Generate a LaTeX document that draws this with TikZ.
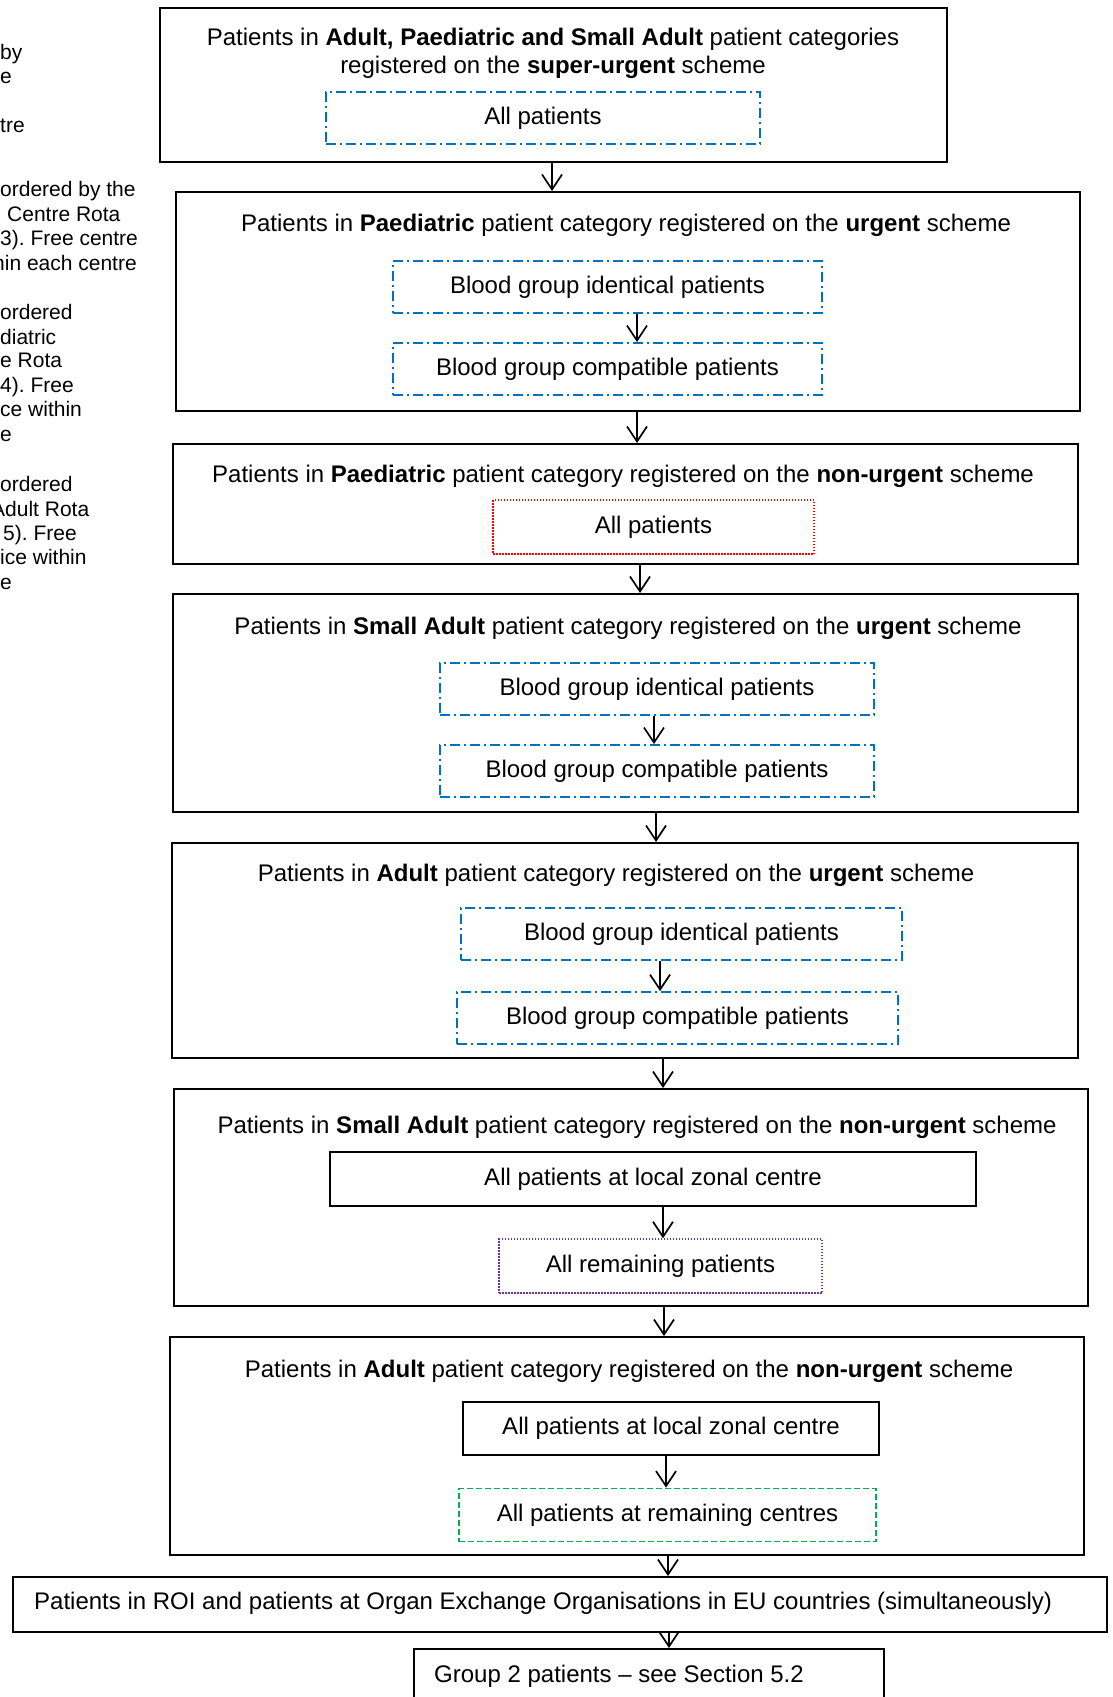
\documentclass[tikz,border=0pt]{standalone}
\usepackage{fontspec}
\setmainfont{Liberation Sans}
\usetikzlibrary{arrows.meta}
\definecolor{zoneblue}{RGB}{0,112,192}
\definecolor{zonered}{RGB}{255,0,0}
\definecolor{zonepurple}{RGB}{112,48,160}
\definecolor{zonegreen}{RGB}{0,176,80}
\frenchspacing

\begin{document}
\begin{tikzpicture}[x=1pt,y=-1pt,
  every node/.style={inner sep=0pt,font=\fontsize{24}{28}\selectfont},
  tier/.style={draw,line width=2pt},
  pool/.style={line width=1.8pt,minimum height=52pt},
  bluebox/.style={pool,draw=zoneblue,dash pattern=on 10pt off 4pt on 2pt off 4pt},
  redbox/.style={pool,draw=zonered,line width=1.5pt,dash pattern=on 1.5pt off 1.5pt},
  purplebox/.style={pool,draw=zonepurple,line width=1.5pt,dash pattern=on 1.5pt off 1.5pt},
  greenbox/.style={pool,draw=zonegreen,dash pattern=on 6pt off 3pt},
  plainbox/.style={pool,draw=black,line width=2pt},
  flow/.style={-{Straight Barb[length=15pt,width=20pt]},line width=1.7pt},
  side/.style={font=\fontsize{21}{24}\selectfont,anchor=base west}]
  \useasboundingbox (0,0) rectangle (1112,1697);

  %clipped notes on the left edge
  \foreach \ly/\lx/\lt [count=\i] in {52/0/by, 76/0/e, 125/0/tre,
      189/0/ordered by the, 214/7/Centre Rota, 238/0/3). Free centre, 263/-7/hin each centre,
      312/0/ordered, 337/0/diatric, 360/0/e Rota, 385/0/4). Free, 409/0/ce within, 434/0/e,
      484/0/ordered, 509/-9/Adult Rota, 533/3/5). Free, 557/0/ice within, 582/0/e}
    \node[side] (note\i) at (\lx,\ly+7) {\lt};

  %super-urgent
  \node[tier,minimum width=787pt,minimum height=154pt] (b1) at (553.5,85) {};
  \node[align=center] (t1) at (553,53) {Patients in \textbf{Adult, Paediatric and Small Adult} patient categories\\registered on the \textbf{super-urgent} scheme};
  \node[bluebox,minimum width=434pt] (i1) at (543,118) {All patients};

  %paediatric urgent
  \node[tier,minimum width=904pt,minimum height=219pt] (b2) at (628,301.5) {};
  \node (t2) at (626,225) {Patients in \textbf{Paediatric} patient category registered on the \textbf{urgent} scheme};
  \node[bluebox,minimum width=429pt] (i2a) at (607.5,287) {Blood group identical patients};
  \node[bluebox,minimum width=429pt] (i2b) at (607.5,369) {Blood group compatible patients};

  %paediatric non-urgent
  \node[tier,minimum width=905pt,minimum height=120pt] (b3) at (625.5,504) {};
  \node (t3) at (623,476) {Patients in \textbf{Paediatric} patient category registered on the \textbf{non-urgent} scheme};
  \node[redbox,minimum width=321pt,minimum height=54pt] (i3) at (653.5,527) {All patients};

  %small adult urgent
  \node[tier,minimum width=905pt,minimum height=218pt] (b4) at (625.5,703) {};
  \node (t4) at (628,628) {Patients in \textbf{Small Adult} patient category registered on the \textbf{urgent} scheme};
  \node[bluebox,minimum width=434pt] (i4a) at (657,689) {Blood group identical patients};
  \node[bluebox,minimum width=434pt] (i4b) at (657,771) {Blood group compatible patients};

  %adult urgent
  \node[tier,minimum width=906pt,minimum height=215pt] (b5) at (625,950.5) {};
  \node (t5) at (616,875) {Patients in \textbf{Adult} patient category registered on the \textbf{urgent} scheme};
  \node[bluebox,minimum width=441pt] (i5a) at (681.5,934) {Blood group identical patients};
  \node[bluebox,minimum width=441pt] (i5b) at (677.5,1018) {Blood group compatible patients};

  %small adult non-urgent
  \node[tier,minimum width=914pt,minimum height=217pt] (b6) at (631,1197.5) {};
  \node (t6) at (637,1127) {Patients in \textbf{Small Adult} patient category registered on the \textbf{non-urgent} scheme};
  \node[plainbox,minimum width=646pt,minimum height=54pt] (i6a) at (653,1179) {All patients at local zonal centre};
  \node[purplebox,minimum width=323pt,minimum height=54pt] (i6b) at (660.5,1266) {All remaining patients};

  %adult non-urgent
  \node[tier,minimum width=914pt,minimum height=218pt] (b7) at (627,1446) {};
  \node (t7) at (629,1371) {Patients in \textbf{Adult} patient category registered on the \textbf{non-urgent} scheme};
  \node[plainbox,minimum width=416pt,minimum height=53pt] (i7a) at (671,1428) {All patients at local zonal centre};
  \node[greenbox,minimum width=417pt,minimum height=53pt] (i7b) at (667.5,1515) {All patients at remaining centres};

  %ROI and EU, then group 2
  \node[tier,minimum width=1094pt,minimum height=55pt] (b8) at (560,1604.5) {};
  \node[anchor=west] (t8) at (34,1603) {Patients in ROI and patients at Organ Exchange Organisations in EU countries (simultaneously)};
  \node[tier,minimum width=470pt,minimum height=81pt] (b9) at (649,1689.5) {};
  \node[anchor=west] (t9) at (434,1676) {Group 2 patients -- see Section 5.2};

  %arrows
  \coordinate (x1) at (552,0);
  \coordinate (x2) at (637,0);
  \coordinate (x3) at (640,0);
  \coordinate (x4) at (654,0);
  \coordinate (x5) at (656,0);
  \coordinate (x6) at (660,0);
  \coordinate (x7) at (663,0);
  \coordinate (x8) at (664,0);
  \coordinate (x9) at (666,0);
  \coordinate (x10) at (668,0);
  \coordinate (x11) at (669,0);
  \draw[flow] (b1.south -| x1) -- (b2.north -| x1);
  \draw[flow] (i2a.south -| x2) -- (i2b.north -| x2);
  \draw[flow] (b2.south -| x2) -- (b3.north -| x2);
  \draw[flow] (b3.south -| x3) -- (b4.north -| x3);
  \draw[flow] (i4a.south -| x4) -- (i4b.north -| x4);
  \draw[flow] (b4.south -| x5) -- (b5.north -| x5);
  \draw[flow] (i5a.south -| x6) -- (i5b.north -| x6);
  \draw[flow] (b5.south -| x7) -- (b6.north -| x7);
  \draw[flow] (i6a.south -| x7) -- (i6b.north -| x7);
  \draw[flow] (b6.south -| x8) -- (b7.north -| x8);
  \draw[flow] (i7a.south -| x9) -- (i7b.north -| x9);
  \draw[flow] (b7.south -| x10) -- (b8.north -| x10);
  \draw[flow] (b8.south -| x11) -- (b9.north -| x11);
\end{tikzpicture}
\end{document}
